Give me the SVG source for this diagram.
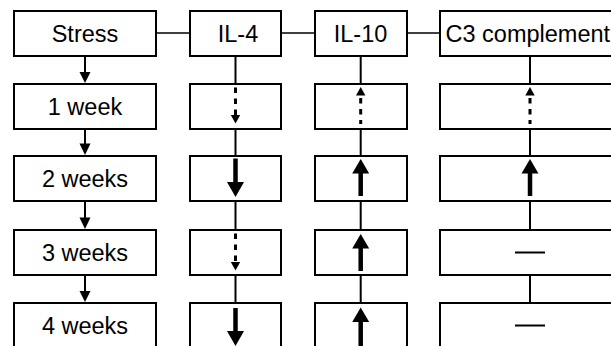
<svg xmlns="http://www.w3.org/2000/svg" width="611" height="346" viewBox="0 0 611 346">
<style>
.box{fill:#fff;stroke:#000;stroke-width:2}
.t{font-family:"Liberation Sans",Arial,sans-serif;font-size:23.5px;fill:#000}
.c{text-anchor:middle}
.ln{stroke:#000;stroke-width:2;fill:none}
.hl{stroke:#000;stroke-width:1.6;fill:none}
.dash{stroke:#000;stroke-width:3;stroke-dasharray:5.5 5.5;fill:none}
.thick{stroke:#000;stroke-width:4.5;fill:none}
.head{fill:#000}
</style>
<rect width="611" height="346" fill="#fff"/>
<g id="connectors">
<line class="hl" x1="156" y1="33" x2="190" y2="33"/>
<line class="hl" x1="281" y1="33" x2="315" y2="33"/>
<line class="hl" x1="407" y1="33" x2="440" y2="33"/>
<!-- Stress column arrows -->
<line class="ln" x1="85" y1="56" x2="85" y2="74"/>
<polygon class="head" points="79.5,72 90.5,72 85,83"/>
<line class="ln" x1="85" y1="129" x2="85" y2="145"/>
<polygon class="head" points="79.5,143.5 90.5,143.5 85,155"/>
<line class="ln" x1="85" y1="201" x2="85" y2="219"/>
<polygon class="head" points="79.5,217.5 90.5,217.5 85,229"/>
<line class="ln" x1="85" y1="275" x2="85" y2="292"/>
<polygon class="head" points="79.5,291 90.5,291 85,302"/>
<!-- IL-4 column -->
<line class="ln" x1="235.5" y1="56" x2="235.5" y2="84"/>
<line class="ln" x1="235.5" y1="129" x2="235.5" y2="156"/>
<line class="ln" x1="235.5" y1="201" x2="235.5" y2="230"/>
<line class="ln" x1="235.5" y1="275" x2="235.5" y2="303"/>
<!-- IL-10 column -->
<line class="ln" x1="360.7" y1="56" x2="360.7" y2="84"/>
<line class="ln" x1="360.7" y1="129" x2="360.7" y2="156"/>
<line class="ln" x1="360.7" y1="201" x2="360.7" y2="230"/>
<line class="ln" x1="360.7" y1="275" x2="360.7" y2="303"/>
<!-- C3 column -->
<line class="ln" x1="530" y1="56" x2="530" y2="84"/>
<line class="ln" x1="530" y1="129" x2="530" y2="156"/>
<line class="ln" x1="530" y1="201" x2="530" y2="230"/>
<line class="ln" x1="530" y1="275" x2="530" y2="303"/>
</g>
<g id="stress"><rect class="box" x="14" y="11" width="142" height="45"/><text class="t c" x="85" y="41.5">Stress</text></g>
<g id="il4"><rect class="box" x="190" y="11" width="91" height="45"/><text class="t c" x="238" y="41.5">IL-4</text></g>
<g id="il10"><rect class="box" x="315" y="11" width="92" height="45"/><text class="t c" x="360.5" y="41.5">IL-10</text></g>
<g id="c3"><rect class="box" x="440" y="11" width="180" height="45"/><text class="t" x="445.5" y="41.5">C3 complement</text></g>

<g id="week1"><rect class="box" x="14" y="84" width="142" height="45"/><text class="t c" x="85" y="114.5">1 week</text></g>
<g id="week2"><rect class="box" x="14" y="156" width="142" height="45"/><text class="t c" x="85" y="186.5">2 weeks</text></g>
<g id="week3"><rect class="box" x="14" y="230" width="142" height="45"/><text class="t c" x="85" y="260.5">3 weeks</text></g>
<g id="week4"><rect class="box" x="14" y="303" width="142" height="45"/><text class="t c" x="85" y="333.5">4 weeks</text></g>

<!-- IL-4 cells -->
<g id="il4-w1"><rect class="box" x="190" y="84" width="91" height="45"/>
<line class="dash" x1="235.5" y1="87.5" x2="235.5" y2="115"/>
<polygon class="head" points="230.8,115 240.2,115 235.5,123.5"/></g>
<g id="il4-w2"><rect class="box" x="190" y="156" width="91" height="45"/>
<line class="thick" x1="235.5" y1="158.5" x2="235.5" y2="183"/>
<polygon class="head" points="227,182 244,182 235.5,197"/></g>
<g id="il4-w3"><rect class="box" x="190" y="230" width="91" height="45"/>
<line class="dash" x1="235.5" y1="233.5" x2="235.5" y2="261.5"/>
<polygon class="head" points="230.8,262 240.2,262 235.5,270.5"/></g>
<g id="il4-w4"><rect class="box" x="190" y="303" width="91" height="45"/>
<line class="thick" x1="235.5" y1="308" x2="235.5" y2="332"/>
<polygon class="head" points="227,331 244,331 235.5,346"/></g>

<!-- IL-10 cells -->
<g id="il10-w1"><rect class="box" x="315" y="84" width="92" height="45"/>
<polygon class="head" points="360.7,87 356,95.5 365.4,95.5"/>
<line class="dash" x1="360.7" y1="98" x2="360.7" y2="124"/></g>
<g id="il10-w2"><rect class="box" x="315" y="156" width="92" height="45"/>
<polygon class="head" points="360.7,159 352.2,173.5 369.2,173.5"/>
<line class="thick" x1="360.7" y1="172" x2="360.7" y2="196"/></g>
<g id="il10-w3"><rect class="box" x="315" y="230" width="92" height="45"/>
<polygon class="head" points="360.7,234 352.2,248.5 369.2,248.5"/>
<line class="thick" x1="360.7" y1="247" x2="360.7" y2="271"/></g>
<g id="il10-w4"><rect class="box" x="315" y="303" width="92" height="45"/>
<polygon class="head" points="360.7,307.5 352.2,322 369.2,322"/>
<line class="thick" x1="360.7" y1="320.5" x2="360.7" y2="346"/></g>

<!-- C3 cells -->
<g id="c3-w1"><rect class="box" x="440" y="84" width="180" height="45"/>
<polygon class="head" points="530,87 525.3,95.5 534.7,95.5"/>
<line class="dash" x1="530" y1="98" x2="530" y2="124"/></g>
<g id="c3-w2"><rect class="box" x="440" y="156" width="180" height="45"/>
<polygon class="head" points="530,159 521.5,173.5 538.5,173.5"/>
<line class="thick" x1="530" y1="172" x2="530" y2="196"/></g>
<g id="c3-w3"><rect class="box" x="440" y="230" width="180" height="45"/>
<line class="ln" x1="515" y1="252.5" x2="545" y2="252.5"/></g>
<g id="c3-w4"><rect class="box" x="440" y="303" width="180" height="45"/>
<line class="ln" x1="515" y1="325.5" x2="545" y2="325.5"/></g>
</svg>
